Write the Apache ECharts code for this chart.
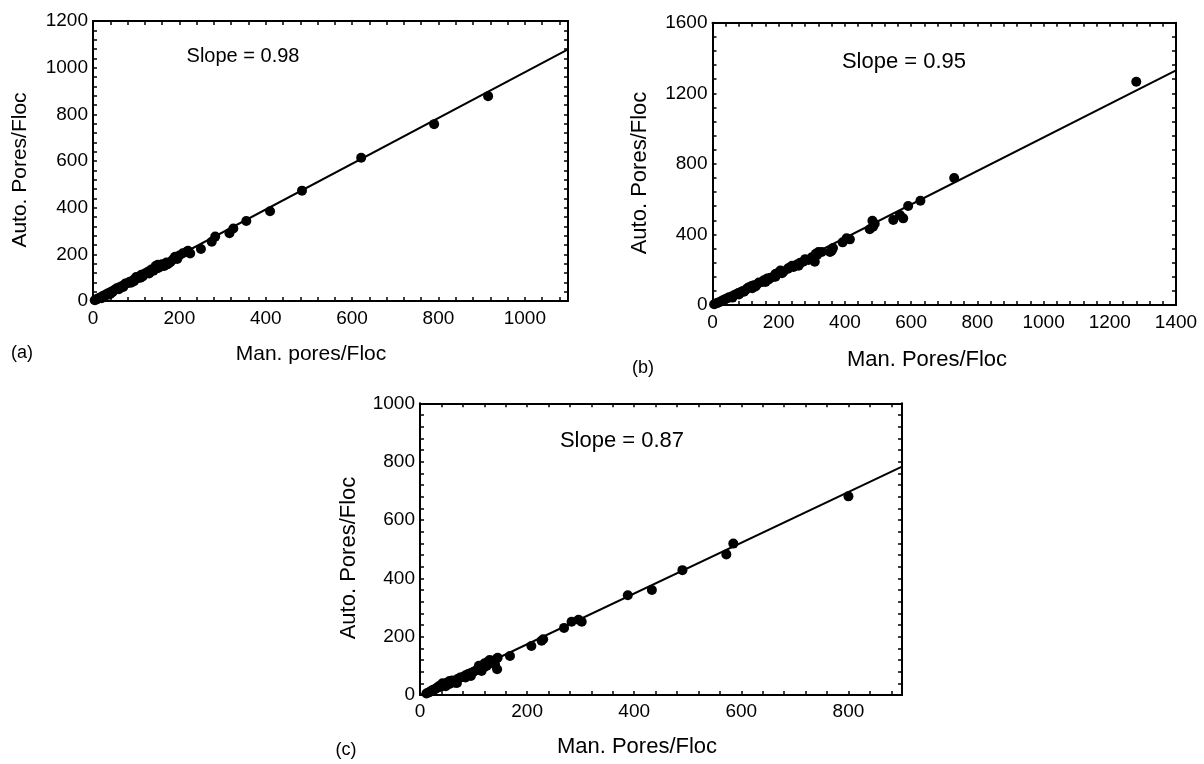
<!DOCTYPE html>
<html>
<head>
<meta charset="utf-8">
<script src="https://cdn.jsdelivr.net/npm/echarts@6/dist/echarts.min.js"></script>
<style>
html,body{margin:0;padding:0;background:#fff;}
#chart{width:1204px;height:764px;}
</style>
</head>
<body>
<div id="chart"></div>
<script>
// ---------- DATA ----------
const panelLabels = ['(a)', '(b)', '(c)'];
const xTitles = ['Man. pores/Floc', 'Man. Pores/Floc', 'Man. Pores/Floc'];
const yTitles = ['Auto. Pores/Floc', 'Auto. Pores/Floc', 'Auto. Pores/Floc'];
const slopes = [0.98, 0.95, 0.87];
const slopeTexts = ['Slope = 0.98', 'Slope = 0.95', 'Slope = 0.87'];
const xMax = [1100, 1400, 900];
const yMax = [1200, 1600, 1000];
const xLabelStep = [200, 200, 200];   // labelled ticks
const yLabelStep = [200, 400, 200];
const xTickStep = [40, 40, 40];       // all tick marks
const yTickStep = [40, 80, 40];

const pointsA = [
  [915, 878], [790, 758], [621, 614], [484, 473], [410, 385], [355, 343], [325, 311], [316, 290],
  [283, 276], [275, 254], [250, 223], [225, 204], [217, 211], [208, 205], [190, 190], [185, 178],
  [172, 157], [160, 158], [150, 155], [135, 135], [130, 128], [120, 118], [112, 112], [105, 100],
  [100, 103], [95, 92], [90, 85], [85, 82], [80, 76], [75, 75], [70, 66], [65, 62], [60, 58],
  [55, 55], [50, 48], [46, 42], [42, 40], [38, 35], [34, 32], [30, 28], [26, 24], [22, 20],
  [18, 16], [14, 13], [10, 9], [7, 6], [4, 3], [170, 165], [140, 130], [125, 122], [115, 105],
  [60, 50], [45, 38], [35, 27], [25, 18], [20, 12], [70, 60], [100, 95], [110, 100], [95, 85],
  [200, 195], [220, 215], [176, 162], [155, 146], [150, 140], [165, 150], [180, 168], [130, 118],
  [88, 78], [40, 30], [195, 180], [145, 150]
];
const pointsB = [
  [1280, 1265], [730, 720], [628, 591], [591, 561], [576, 491], [566, 510], [546, 482], [483, 478],
  [485, 444], [475, 429], [490, 460], [415, 372], [405, 378], [393, 355], [364, 323], [360, 308],
  [355, 300], [316, 283], [312, 290], [309, 245], [300, 270], [274, 245], [265, 240], [255, 230],
  [240, 222], [228, 205], [215, 190], [205, 195], [198, 182], [190, 175], [185, 160], [175, 155],
  [165, 150], [155, 140], [150, 130], [140, 128], [135, 118], [125, 112], [118, 108], [110, 100],
  [105, 95], [100, 85], [92, 80], [85, 72], [78, 68], [70, 60], [65, 55], [58, 48], [50, 44],
  [45, 38], [40, 34], [35, 30], [30, 25], [25, 20], [20, 16], [15, 12], [10, 8], [5, 4],
  [60, 42], [80, 60], [120, 95], [160, 130], [190, 160], [230, 210], [280, 260], [320, 300],
  [170, 145], [210, 180], [245, 215], [95, 75], [130, 105], [260, 222], [290, 255], [330, 300]
];
const pointsC = [
  [800, 681], [585, 519], [572, 482], [490, 428], [433, 360], [388, 342], [302, 251], [296, 258],
  [283, 251], [269, 230], [230, 191], [227, 186], [208, 168], [168, 134], [144, 88], [140, 120],
  [145, 128], [135, 115], [130, 110], [125, 100], [120, 95], [115, 82], [110, 90], [105, 85],
  [100, 80], [95, 75], [90, 72], [85, 68], [80, 62], [75, 60], [70, 55], [65, 42], [60, 50],
  [55, 48], [50, 42], [45, 38], [40, 35], [38, 28], [35, 30], [32, 25], [30, 22], [28, 20],
  [25, 18], [22, 15], [20, 12], [18, 10], [15, 8], [12, 5], [42, 40], [48, 30], [130, 120],
  [140, 105], [69, 41], [110, 100], [120, 108], [85, 60], [55, 38], [95, 65], [125, 112]
];
const panelPoints = [pointsA, pointsB, pointsC];

// ---------- LAYOUT / STYLE ----------
const FONT = '"Liberation Sans", Arial, sans-serif';
const grids = [
  {left: 93, top: 21, width: 475, height: 280},
  {left: 712.5, top: 22.7, width: 463.5, height: 282.3},
  {left: 420, top: 403.3, width: 482, height: 291.7}
];
const tickFont = [19, 19, 19];
const titleFont = [21, 22, 22];
const slopeFont = [20, 22, 22];
const slopePos = [[243, 56], [904, 62], [622, 441]];
const labelPos = [[22, 353], [643, 368], [346, 750]];
const xTitlePos = [[311, 354], [927, 360], [637, 747]];
const yTitlePos = [[20, 170], [640, 173], [349, 558]];
const xLabelMargin = [8, 8, 7];

const axisLine = {show: true, onZero: false, lineStyle: {color: '#000', width: 2}};
function mkAxis(kind, i, max, tickStep, labelStep, showLabel, pos) {
  return {
    type: 'value', gridIndex: i, min: 0, max: max, interval: tickStep, position: pos,
    axisLine: axisLine,
    axisTick: {show: true, inside: true, length: 4, lineStyle: {color: '#000', width: 1.5}},
    splitLine: {show: false},
    axisLabel: {
      show: showLabel, color: '#000', fontSize: tickFont[i], fontFamily: FONT,
      margin: kind === 'x' ? xLabelMargin[i] : 5,
      hideOverlap: false, showMinLabel: true, showMaxLabel: true,
      formatter: v => (Math.round(v) % labelStep === 0 ? String(Math.round(v)) : '')
    }
  };
}

const xAxes = [], yAxes = [], series = [], graphics = [];
for (let i = 0; i < 3; i++) {
  xAxes.push(mkAxis('x', i, xMax[i], xTickStep[i], xLabelStep[i], true, 'bottom'));
  xAxes.push(mkAxis('x', i, xMax[i], xTickStep[i], xLabelStep[i], false, 'top'));
  yAxes.push(mkAxis('y', i, yMax[i], yTickStep[i], yLabelStep[i], true, 'left'));
  yAxes.push(mkAxis('y', i, yMax[i], yTickStep[i], yLabelStep[i], false, 'right'));
  series.push({
    type: 'line', xAxisIndex: 2 * i, yAxisIndex: 2 * i, symbol: 'none', silent: true,
    data: [[0, 0], [xMax[i], slopes[i] * xMax[i]]],
    lineStyle: {color: '#000', width: 2}, clip: true, z: 2
  });
  series.push({
    type: 'scatter', xAxisIndex: 2 * i, yAxisIndex: 2 * i, symbol: 'circle', symbolSize: 10,
    itemStyle: {color: '#000', opacity: 1}, data: panelPoints[i], z: 3, clip: false
  });
  const t = (txt, p, size, rot) => ({
    type: 'text', x: p[0], y: p[1], rotation: rot || 0,
    style: {text: txt, fill: '#000', font: size + 'px ' + FONT, textAlign: 'center', textVerticalAlign: 'middle'}
  });
  graphics.push(t(slopeTexts[i], slopePos[i], slopeFont[i]));
  graphics.push(t(panelLabels[i], labelPos[i], 18));
  graphics.push(t(xTitles[i], xTitlePos[i], titleFont[i]));
  graphics.push(t(yTitles[i], yTitlePos[i], titleFont[i], Math.PI / 2));
}

const chart = echarts.init(document.getElementById('chart'), null, {renderer: 'canvas'});
chart.setOption({
  animation: false,
  backgroundColor: '#fff',
  grid: grids.map(g => Object.assign({containLabel: false, outerBoundsMode: 'none'}, g)),
  xAxis: xAxes,
  yAxis: yAxes,
  series: series,
  graphic: graphics
});
</script>
</body>
</html>
